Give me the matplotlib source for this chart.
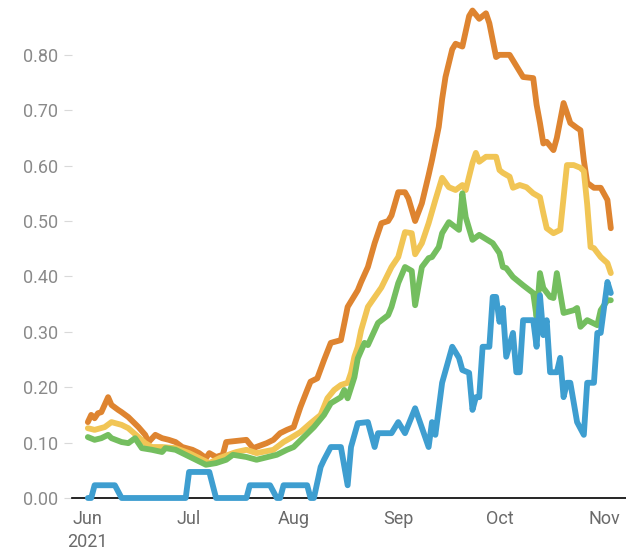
import matplotlib.pyplot as plt
import pandas as pd

start = pd.Timestamp("2021-06-01")

# days since 1 June 2021
orange_days = [0, 1, 2, 3, 4, 6, 7, 9, 10, 12, 15, 17, 18, 20, 22, 24, 26, 28, 31, 33,
               35, 36, 38, 40, 41, 44, 47, 49, 53, 55, 57, 59, 61, 63, 65, 66, 67, 68, 70, 72,
               75, 77, 80, 81, 83, 85, 87, 89, 90, 92, 94, 95, 97, 99, 101, 102, 104, 105, 106, 108,
               109, 111, 113, 114, 116, 118, 119, 121, 122, 125, 129, 132, 133, 134, 135, 136, 138, 139, 141, 143,
               145, 146, 147, 148, 150, 152, 154, 155]
orange_vals = [0.137, 0.15, 0.144, 0.153, 0.155, 0.182, 0.168, 0.159, 0.155, 0.146, 0.128, 0.114, 0.101, 0.114, 0.108, 0.105, 0.101, 0.092, 0.087, 0.081,
               0.072, 0.081, 0.074, 0.078, 0.101, 0.103, 0.105, 0.09, 0.099, 0.105, 0.117, 0.123, 0.128, 0.164, 0.195, 0.21, 0.213, 0.216, 0.249, 0.28,
               0.285, 0.345, 0.375, 0.39, 0.417, 0.46, 0.496, 0.50, 0.51, 0.552, 0.552, 0.541, 0.50, 0.532, 0.583, 0.61, 0.67, 0.72, 0.76, 0.81,
               0.82, 0.815, 0.87, 0.88, 0.865, 0.875, 0.857, 0.796, 0.80, 0.80, 0.76, 0.758, 0.71, 0.677, 0.64, 0.643, 0.628, 0.65, 0.713, 0.677,
               0.668, 0.664, 0.61, 0.569, 0.56, 0.56, 0.538, 0.487]

yellow_days = [0, 2, 5, 7, 10, 12, 15, 17, 19, 22, 26, 30, 34, 36, 39, 43, 44, 47, 50, 55,
               58, 60, 63, 66, 69, 71, 73, 75, 77, 78, 79, 80, 81, 83, 87, 90, 92, 94, 96, 97,
               99, 101, 103, 105, 107, 109, 111, 112, 114, 115, 116, 118, 121, 122, 123, 125, 126, 128, 130, 132,
               134, 135, 136, 138, 140, 142, 144, 146, 147, 148, 149, 150, 152, 154, 155]
yellow_vals = [0.126, 0.123, 0.128, 0.137, 0.132, 0.126, 0.11, 0.099, 0.092, 0.092, 0.09, 0.081, 0.069, 0.063, 0.072, 0.081, 0.083, 0.087, 0.081, 0.087,
               0.101, 0.108, 0.119, 0.135, 0.15, 0.18, 0.195, 0.204, 0.208, 0.226, 0.255, 0.273, 0.303, 0.345, 0.38, 0.417, 0.435, 0.48, 0.478, 0.44,
               0.46, 0.496, 0.538, 0.578, 0.561, 0.556, 0.565, 0.556, 0.605, 0.623, 0.607, 0.616, 0.616, 0.592, 0.587, 0.58, 0.56, 0.565, 0.561, 0.55,
               0.543, 0.514, 0.487, 0.478, 0.484, 0.601, 0.601, 0.596, 0.59, 0.53, 0.453, 0.451, 0.435, 0.424, 0.406]

green_days = [0, 2, 4, 6, 7, 10, 12, 14, 16, 19, 22, 23, 26, 29, 32, 35, 38, 41, 43, 47,
              50, 52, 56, 59, 61, 64, 67, 70, 72, 75, 76, 77, 79, 80, 82, 83, 86, 89, 90, 92,
              94, 96, 97, 99, 101, 102, 104, 105, 107, 110, 111, 112, 114, 116, 120, 122, 123, 124, 126, 129,
              132, 133, 134, 135, 137, 138, 139, 141, 144, 145, 146, 148, 151, 152, 154, 155]
green_vals = [0.11, 0.105, 0.108, 0.114, 0.108, 0.101, 0.099, 0.108, 0.09, 0.087, 0.083, 0.09, 0.087, 0.078, 0.069, 0.06, 0.063, 0.069, 0.078, 0.074,
              0.069, 0.072, 0.078, 0.087, 0.092, 0.11, 0.128, 0.15, 0.171, 0.182, 0.195, 0.18, 0.218, 0.252, 0.28, 0.276, 0.316, 0.33, 0.345, 0.388,
              0.417, 0.41, 0.348, 0.417, 0.433, 0.435, 0.453, 0.478, 0.498, 0.484, 0.55, 0.507, 0.466, 0.475, 0.46, 0.442, 0.417, 0.415, 0.399, 0.384,
              0.37, 0.327, 0.406, 0.379, 0.363, 0.361, 0.406, 0.334, 0.339, 0.343, 0.309, 0.321, 0.312, 0.339, 0.357, 0.357]

blue_days = [0, 1, 2, 8, 10, 29, 30, 36, 38, 47, 48, 54, 56, 57, 58, 65, 66, 67, 69, 70,
             72, 75, 77, 78, 80, 83, 85, 86, 90, 92, 94, 97, 101, 102, 103, 105, 108, 110, 111, 113,
             114, 115, 116, 117, 119, 120, 121, 122, 123, 124, 126, 127, 128, 129, 132, 133, 134, 135, 136, 137,
             139, 140, 141, 142, 143, 145, 147, 148, 150, 151, 152, 154, 155]
blue_vals = [0, 0, 0.023, 0.023, 0, 0, 0.047, 0.047, 0, 0, 0.023, 0.023, 0, 0, 0.023, 0.023, 0, 0, 0.056, 0.069,
             0.092, 0.092, 0.023, 0.092, 0.135, 0.137, 0.092, 0.117, 0.117, 0.137, 0.117, 0.162, 0.092, 0.137, 0.114, 0.208, 0.273, 0.253, 0.231, 0.226,
             0.159, 0.182, 0.182, 0.273, 0.273, 0.363, 0.363, 0.318, 0.343, 0.255, 0.298, 0.227, 0.227, 0.321, 0.321, 0.273, 0.366, 0.294, 0.321, 0.227,
             0.227, 0.253, 0.182, 0.208, 0.208, 0.137, 0.114, 0.208, 0.208, 0.298, 0.298, 0.39, 0.37]

month_ticks = ["2021-06-01", "2021-07-01", "2021-08-01", "2021-09-01", "2021-10-01", "2021-11-01"]
month_labels = ["Jun\n2021", "Jul", "Aug", "Sep", "Oct", "Nov"]
y_ticks = [0, 0.1, 0.2, 0.3, 0.4, 0.5, 0.6, 0.7, 0.8]

plt.rcParams['font.family'] = ['Roboto', 'DejaVu Sans']

fig = plt.figure(figsize=(6.26, 5.51), dpi=100)
ax = fig.add_axes([0.115, 0.0962, 0.885, 0.9038])


def to_dates(days):
    return [start + pd.Timedelta(days=d) for d in days]


series = [
    (orange_days, orange_vals, "#DE8430"),
    (yellow_days, yellow_vals, "#F1C555"),
    (green_days, green_vals, "#74BE5F"),
    (blue_days, blue_vals, "#3E9ED0"),
]
for i, (d, v, c) in enumerate(series):
    ax.plot(to_dates(d), v, color=c, lw=4.2, solid_joinstyle="round",
            solid_capstyle="round", clip_on=False, zorder=3 + i)

ax.set_xlim(start - pd.Timedelta(days=4.7), start + pd.Timedelta(days=159.5))
ax.set_ylim(0, 0.899)

for s in ["top", "right", "left"]:
    ax.spines[s].set_visible(False)
ax.spines["bottom"].set_color("black")
ax.spines["bottom"].set_linewidth(1.2)
ax.spines["bottom"].set_zorder(2)

ax.set_yticks(y_ticks)
ax.set_yticklabels([f"{t:.2f}" for t in y_ticks])
ax.tick_params(axis="y", length=6, width=0.8, color="#d9d9d9", pad=4,
               labelsize=13, labelcolor="#8a8a8a")

ax.set_xticks(pd.to_datetime(month_ticks))
ax.set_xticklabels(month_labels)
ax.tick_params(axis="x", length=0, pad=9, labelsize=13, labelcolor="#6a6a6a")
for lbl in ax.get_xticklabels():
    lbl.set_linespacing(1.3)

fig.savefig("out.png", dpi=100)
